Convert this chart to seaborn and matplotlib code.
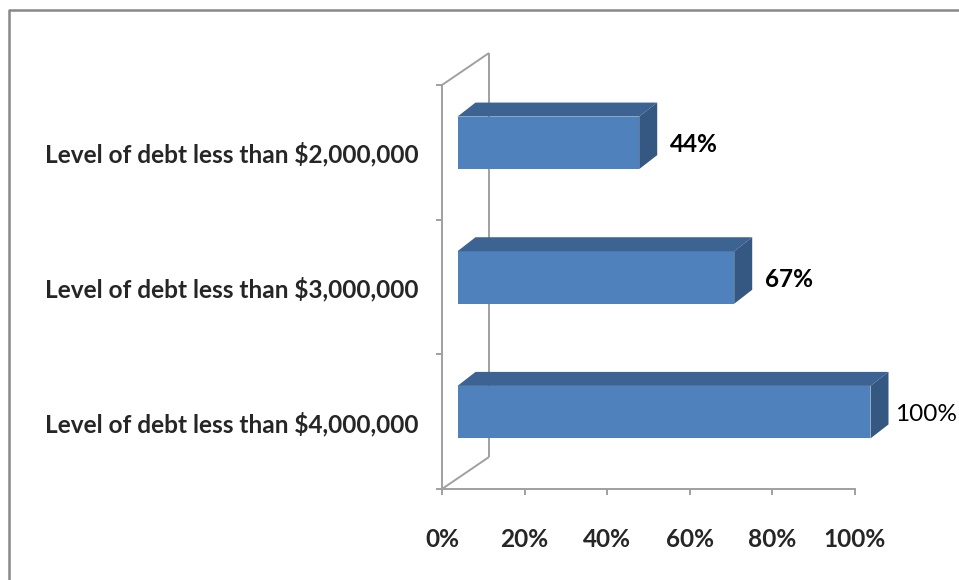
import matplotlib
matplotlib.use("Agg")
import matplotlib.pyplot as plt
from matplotlib.patches import Polygon
from matplotlib.lines import Line2D
from matplotlib.transforms import ScaledTranslation
import seaborn as sns
import pandas as pd

# Data
categories = [
    "Level of debt less than $2,000,000",
    "Level of debt less than $3,000,000",
    "Level of debt less than $4,000,000",
]
values = [44, 67, 100]
x_ticks = [0, 20, 40, 60, 80, 100]
x_tick_labels = ["0%", "20%", "40%", "60%", "80%", "100%"]

df = pd.DataFrame({"category": categories, "value": values})

sns.set_theme(style="white")
plt.rcParams["font.family"] = ["Lato", "DejaVu Sans"]

W, H, DPI = 959, 580, 100
FS = 17.6
fig = plt.figure(figsize=(W / DPI, H / DPI), dpi=DPI)

# axes box in pixel units (front plane of the chart)
ax_l, ax_r, ax_t, ax_b = 442, 855, 85, 489
ax = fig.add_axes([ax_l / W, (H - ax_b) / H, (ax_r - ax_l) / W, (ax_b - ax_t) / H])

FRONT = "#4F81BD"
TOP = "#3D6392"
SIDE = "#345882"
GRID = "#A0A0A0"

bar_w = 0.39
sns.barplot(data=df, x="value", y="category", orient="h", color=FRONT,
            width=bar_w, saturation=1, ax=ax, zorder=3)

ax.set_xlim(0, 100)
ax.set_ylim(2.5, -0.5)

px_x = (ax_r - ax_l) / 100.0      # pixels per data unit along x
px_y = (ax_b - ax_t) / 3.0        # pixels per category

# 3D offsets in pixels
bar_shift = (15.5, 9.5)           # front face of bars vs. the axis plane
bar_depth = (18.0, 14.0)          # thickness of each bar
wall_depth = (47.0, 32.0)         # back wall offset

shift_tf = ax.transData + ScaledTranslation(bar_shift[0] / DPI, bar_shift[1] / DPI,
                                            fig.dpi_scale_trans)
ddx = bar_depth[0] / px_x
ddy = bar_depth[1] / px_y

for patch in ax.patches:
    patch.set_transform(shift_tf)
    patch.set_clip_on(False)
    patch.set_edgecolor("none")
    x0 = patch.get_x()
    x1 = x0 + patch.get_width()
    yt = patch.get_y()
    yb = yt + patch.get_height()
    top = Polygon([(x0, yt), (x0 + ddx, yt - ddy), (x1 + ddx, yt - ddy), (x1, yt)],
                  closed=True, facecolor=TOP, edgecolor="none",
                  transform=shift_tf, clip_on=False, zorder=3)
    side = Polygon([(x1, yt), (x1 + ddx, yt - ddy), (x1 + ddx, yb - ddy), (x1, yb)],
                   closed=True, facecolor=SIDE, edgecolor="none",
                   transform=shift_tf, clip_on=False, zorder=3)
    ax.add_patch(top)
    ax.add_patch(side)

# back wall outline
wx = wall_depth[0] / px_x
wy = wall_depth[1] / px_y
wall_kw = dict(color=GRID, lw=1.4, clip_on=False, zorder=1, solid_capstyle="butt")
ax.plot([0, wx], [-0.5, -0.5 - wy], **wall_kw)
ax.plot([0, wx], [2.5, 2.5 - wy], **wall_kw)
ax.plot([wx, wx], [-0.5 - wy, 2.5 - wy], **wall_kw)

# value labels
label_pad_px = [31, 31, 25]
label_weights = ["bold", "bold", "normal"]
for i, v in enumerate(values):
    ax.annotate(f"{v}%", xy=(v, i), xycoords="data",
                xytext=((bar_shift[0] + label_pad_px[i]) * 72 / DPI,
                        (bar_shift[1] - 2) * 72 / DPI),
                textcoords="offset points", ha="left", va="center",
                fontsize=FS, fontweight=label_weights[i], color="black",
                annotation_clip=False)

# spines & ticks
for s in ["top", "right"]:
    ax.spines[s].set_visible(False)
for s in ["left", "bottom"]:
    ax.spines[s].set_color(GRID)
    ax.spines[s].set_linewidth(1.4)

ax.set_xticks(x_ticks)
ax.set_xticklabels(x_tick_labels, fontsize=FS, fontweight="bold")
ax.tick_params(axis="x", direction="out", length=4, width=1.4, color=GRID,
               pad=24, bottom=True)

ax.set_yticks([0, 1, 2])
ax.set_yticklabels(categories, fontsize=FS, fontweight="bold")
ax.set_yticks([-0.5, 0.5, 1.5, 2.5], minor=True)
ax.tick_params(axis="y", which="major", length=0, pad=17)
ax.tick_params(axis="y", which="minor", direction="out", length=4, width=1.4,
               color=GRID, left=True)

ax.set_xlabel("")
ax.set_ylabel("")
ax.grid(False)

# outer chart frame
fig.add_artist(Line2D([8.5 / W, 8.5 / W, 1.0], [0.0, (H - 10) / H, (H - 10) / H],
                      transform=fig.transFigure, color="#888888", lw=1.8))

fig.savefig("out.png", dpi=DPI)
